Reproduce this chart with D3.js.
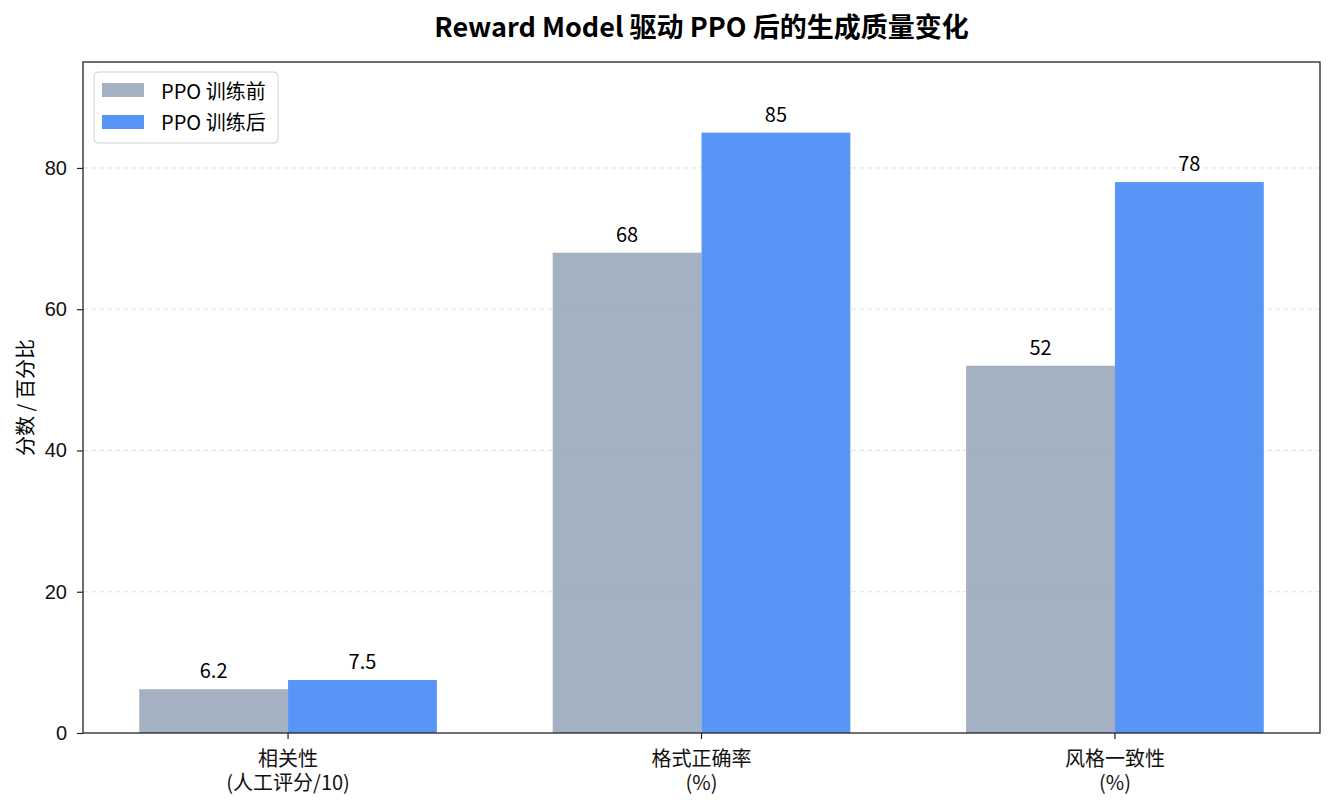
<!DOCTYPE html>
<html>
<head>
<meta charset="utf-8">
<script src="https://cdn.jsdelivr.net/npm/d3@7"></script>
<style>
  body { margin: 0; background: #fff; }
  svg { font-family: "Noto Sans CJK SC", "Noto Sans", sans-serif; }
</style>
</head>
<body>
<div id="chart"></div>
<script>
// chart data
var categories = [["相关性", "(人工评分/10)"], ["格式正确率", "(%)"], ["风格一致性", "(%)"]];
var seriesNames = ["PPO 训练前", "PPO 训练后"];
var beforeValues = [6.2, 68, 52];
var afterValues = [7.5, 85, 78];
var valueLabels = [["6.2", "68", "52"], ["7.5", "85", "78"]];
var yTicks = [0, 20, 40, 60, 80];

var colors = ["#94A3B8", "#3B82F6"];

function drawChart() {
  var W = 1334, H = 810;
  var margin = { top: 62, right: 14, bottom: 77, left: 83 },
    width = W - margin.left - margin.right,
    height = H - margin.top - margin.bottom;

  var barW = 0.36;

  // numeric x like matplotlib: categories at 0,1,2
  var x = d3.scaleLinear().domain([-0.496, 2.496]).range([0, width]);
  var y = d3.scaleLinear().domain([0, 95]).range([height, 0]);

  var svg = d3.select("#chart").append("svg")
    .attr("width", W).attr("height", H);

  svg.append("text")
    .attr("x", margin.left + width / 2)
    .attr("y", 37)
    .attr("text-anchor", "middle")
    .style("font-size", "27px")
    .style("font-weight", "bold")
    .text("Reward Model 驱动 PPO 后的生成质量变化");

  var g = svg.append("g")
    .attr("transform", `translate(${margin.left}, ${margin.top})`);

  // dashed grid
  g.selectAll(".grid")
    .data(yTicks.filter((d) => d > 0))
    .enter()
    .append("line")
    .attr("class", "grid")
    .attr("x1", 0).attr("x2", width)
    .attr("y1", (d) => y(d)).attr("y2", (d) => y(d))
    .attr("stroke", "#b0b0b0")
    .attr("stroke-opacity", 0.35)
    .attr("stroke-dasharray", "5,3");

  var series = [beforeValues, afterValues];
  series.forEach(function(vals, si) {
    var off = si === 0 ? -barW / 2 : barW / 2;
    g.selectAll(".bar" + si)
      .data(vals)
      .enter()
      .append("rect")
      .attr("x", (d, i) => x(i + off - barW / 2))
      .attr("width", (d, i) => x(i + off + barW / 2) - x(i + off - barW / 2))
      .attr("y", (d) => y(d))
      .attr("height", (d) => height - y(d))
      .attr("fill", colors[si])
      .attr("fill-opacity", 0.85);

    g.selectAll(".lab" + si)
      .data(vals)
      .enter()
      .append("text")
      .attr("x", (d, i) => x(i + off))
      .attr("y", (d) => y(d) - 11)
      .attr("text-anchor", "middle")
      .style("font-size", "20px")
      .text((d, i) => valueLabels[si][i]);
  });

  // y axis
  var yAxis = d3.axisLeft(y).tickValues(yTicks).tickSize(6).tickPadding(10);
  var ya = g.append("g").call(yAxis);
  ya.select(".domain").remove();
  ya.selectAll("line").attr("stroke", "#222").attr("stroke-width", 1.2);
  ya.selectAll("text").style("font-size", "20px").attr("fill", "#111");

  // x axis ticks
  var xa = g.append("g").attr("transform", `translate(0, ${height})`);
  xa.selectAll("line")
    .data(categories)
    .enter()
    .append("line")
    .attr("x1", (d, i) => x(i)).attr("x2", (d, i) => x(i))
    .attr("y1", 0).attr("y2", 6)
    .attr("stroke", "#222").attr("stroke-width", 1.2);
  xa.selectAll("text")
    .data(categories)
    .enter()
    .append("text")
    .attr("x", (d, i) => x(i))
    .attr("text-anchor", "middle")
    .style("font-size", "20px")
    .attr("fill", "#111")
    .each(function(d) {
      var t = d3.select(this);
      d.forEach(function(line, li) {
        t.append("tspan")
          .attr("x", t.attr("x"))
          .attr("y", 33 + li * 24)
          .text(line);
      });
    });

  // frame
  g.append("rect")
    .attr("width", width).attr("height", height)
    .attr("fill", "none")
    .attr("stroke", "#222").attr("stroke-width", 1.3);

  // y label
  svg.append("text")
    .attr("transform", `translate(33, ${margin.top + height / 2}) rotate(-90)`)
    .attr("text-anchor", "middle")
    .style("font-size", "20px")
    .text("分数 / 百分比");

  // legend
  var lg = g.append("g").attr("transform", "translate(11, 10)");
  lg.append("rect")
    .attr("width", 184).attr("height", 71)
    .attr("rx", 4)
    .attr("fill", "#fff").attr("fill-opacity", 0.8)
    .attr("stroke", "#d0d0d0");
  seriesNames.forEach(function(name, i) {
    lg.append("rect")
      .attr("x", 8).attr("y", 11 + i * 32)
      .attr("width", 42).attr("height", 14)
      .attr("fill", colors[i]).attr("fill-opacity", 0.85);
    lg.append("text")
      .attr("x", 67).attr("y", 27 + i * 31)
      .style("font-size", "20px")
      .text(name);
  });
}

drawChart();
</script>
</body>
</html>
